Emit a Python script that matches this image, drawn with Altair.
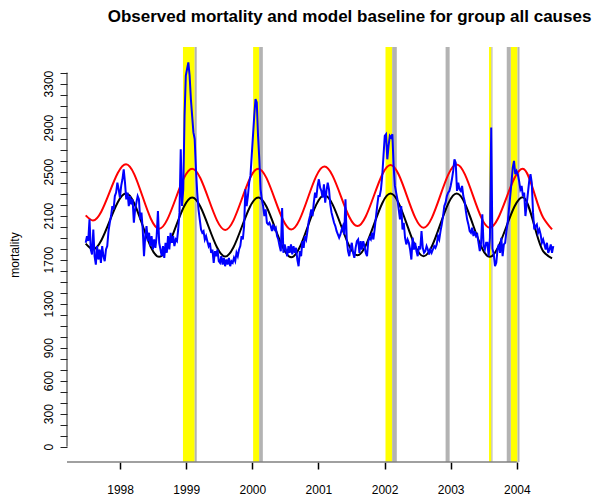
import altair as alt
import pandas as pd

# Weekly observed deaths, all causes, starting late June 1997
START_YEAR = 1997.48
WEEK = 7 / 365.25
observed = [
    1853, 1914, 1870, 2066, 1792, 1747, 1974, 1731, 1655, 1823,
    1701, 1792, 1671, 1823, 1731, 1686, 1792, 1823, 1959, 2035,
    2096, 2187, 2157, 2278, 2309, 2400, 2339, 2263, 2370, 2430,
    2521, 2400, 2248, 2309, 2187, 2278, 2202, 2248, 2035, 2157,
    2218, 2278, 2248, 2066, 2127, 1974, 1731, 1914, 2005, 1868,
    1944, 1823, 1914, 1792, 1883, 1807, 1914, 2142, 1853, 1792,
    1731, 1823, 1716, 1853, 1762, 1914, 1792, 1944, 1853, 1914,
    1823, 1883, 1868, 1974, 2127, 2704, 2187, 2339, 3007, 3372,
    3433, 3493, 3372, 3159, 3007, 2856, 2795, 2521, 2309, 2157,
    2066, 1974, 1944, 1959, 1883, 1914, 1868, 1823, 1853, 1762,
    1792, 1671, 1777, 1731, 1792, 1686, 1671, 1731, 1655, 1716,
    1640, 1701, 1655, 1716, 1640, 1686, 1671, 1716, 1686, 1762,
    1731, 1792, 1823, 1914, 1883, 2005, 2339, 2187, 2278, 2400,
    2461, 2643, 2825, 3007, 3159, 3129, 2825, 2612, 2339, 2248,
    2187, 2096, 2157, 2035, 2020, 2035, 2005, 1959, 2020, 1974,
    1990, 1914, 1883, 1823, 1777, 2170, 1762, 1838, 1792, 1731,
    1823, 1762, 1838, 1747, 1823, 1762, 1807, 1701, 1640, 1777,
    1731, 1868, 1807, 1914, 1883, 1959, 2050, 2096, 2157, 2096,
    2218, 2309, 2263, 2370, 2430, 2354, 2324, 2263, 2385, 2218,
    2324, 2400, 2339, 2202, 2127, 2081, 2035, 2005, 1959, 1929,
    1899, 1929, 1974, 2005, 1929, 2248, 1883, 1777, 1731, 1807,
    1853, 1762, 1716, 1807, 1868, 1883, 1762, 1868, 1790, 1868,
    1823, 1762, 1731, 1868, 1899, 1883, 1944, 1883, 1974, 2081,
    2187, 2278, 2278, 2339, 2461, 2643, 2825, 2840, 2612, 2734,
    2825, 2810, 2840, 2552, 2370, 2309, 2248, 2157, 2066, 2187,
    1974, 2035, 1899, 1838, 1883, 1853, 1792, 1701, 1899, 1792,
    1853, 1777, 1731, 1823, 1792, 1959, 1807, 1762, 1777, 1823,
    1792, 1747, 1792, 1762, 1792, 1823, 1807, 1838, 1914, 1883,
    1959, 2020, 2096, 2187, 2218, 2278, 2309, 2324, 2370, 2430,
    2506, 2612, 2582, 2324, 2400, 2339, 2324, 2370, 2278, 2233,
    2142, 2066, 2020, 1959, 1944, 1990, 1914, 1959, 1914, 1929,
    1853, 1777, 1853, 2111, 1823, 1792, 1853, 1853, 1731, 1900,
    2900, 1800, 1750, 1640, 1671, 1792, 1838, 1762, 1899, 1731,
    1838, 1853, 1959, 2035, 2157, 2278, 2400, 2536, 2597, 2476,
    2506, 2476, 2415, 2339, 2370, 2278, 2309, 2096, 2202, 2309,
    2415, 2476, 2400, 2127, 1974, 2005, 2020, 1944, 1974, 1929,
    1853, 1883, 1838, 1792, 1853, 1762, 1792, 1838, 1762, 1823,
]

# Seasonal model baseline and its upper threshold (turning points, decimal years)
curve_years = [1997.48, 1997.59, 1998.09, 1998.59, 1999.09, 1999.59, 2000.09,
               2000.59, 2001.09, 2001.59, 2002.09, 2002.59, 2003.09, 2003.59,
               2004.09, 2004.40, 2004.533]
baseline = [1845, 1795, 2300, 1725, 2265, 1728, 2265, 1722, 2285, 1740, 2300,
            1731, 2300, 1725, 2268, 1775, 1712]
threshold = [2102, 2056, 2567, 1980, 2527, 1970, 2527, 1974, 2546, 2005, 2561,
             1990, 2564, 1990, 2525, 2081, 1974]

# Flagged periods (decimal years)
yellow_from = [1998.951, 2000.012, 2002.014, 2003.580, 2003.909]
yellow_to = [1999.128, 2000.103, 2002.115, 2003.616, 2004.011]
grey_from = [1999.128, 2000.103, 2002.115, 2002.923, 2003.616, 2003.848, 2004.011]
grey_to = [1999.159, 2000.159, 2002.185, 2002.984, 2003.632, 2003.909, 2004.041]

year_ticks = [1998, 1999, 2000, 2001, 2002, 2003, 2004]
y_ticks = list(range(0, 3500, 100))
y_labelled = [0, 300, 600, 900, 1300, 1700, 2100, 2500, 2900, 3300]

FONT = "Liberation Sans"
W, H = 505, 415

obs_df = pd.DataFrame({
    "year": [START_YEAR + i * WEEK for i in range(len(observed))],
    "mortality": observed,
})
base_df = pd.DataFrame({"year": curve_years, "mortality": baseline})
thr_df = pd.DataFrame({"year": curve_years, "mortality": threshold})
yellow_df = pd.DataFrame({"start": yellow_from, "end": yellow_to})
grey_df = pd.DataFrame({"start": grey_from, "end": grey_to})
one_row = pd.DataFrame({"a": [0]})

# R-style 4% padding around the data range
x0, x1 = obs_df["year"].min(), obs_df["year"].max()
xs = x1 - x0
x_lo = x0 - 0.04 * xs
x_scale = alt.Scale(domain=[x_lo, x1 + 0.04 * xs], nice=False, zero=False)
ymax = max(observed)
y_scale = alt.Scale(domain=[-0.04 * ymax, 1.04 * ymax], nice=False, zero=False)

label_test = "indexof(" + str(y_labelled) + ", datum.value) >= 0 ? datum.label : ''"

# The same axis definitions go on every layer so the shared axes merge cleanly
x_axis = alt.Axis(values=year_ticks, format="d", title=None, tickSize=7,
                  tickWidth=1.5, tickColor="black", labelPadding=15,
                  labelFontSize=12, labelFlush=False, labelOverlap=False)
y_axis = alt.Axis(values=y_ticks, format="d", labelExpr=label_test,
                  title="mortality", tickSize=7, tickWidth=1, tickColor="#222",
                  labelAngle=270, labelAlign="center",
                  labelBaseline="alphabetic", labelPadding=8, labelFontSize=12,
                  labelOverlap=False, labelFlush=False, titleFontSize=12,
                  titleFontWeight="normal", titleX=-53, titleY=H / 2,
                  titleAngle=270, titleBaseline="middle", titleAlign="center")

yellow = alt.Chart(yellow_df).mark_rect(color="#FFFF00").encode(
    x=alt.X("start:Q", scale=x_scale, axis=x_axis),
    x2="end:Q",
    y=alt.value(0),
    y2=alt.value(H),
)
grey = alt.Chart(grey_df).mark_rect(color="#B3B3B3").encode(
    x=alt.X("start:Q", scale=x_scale, axis=x_axis),
    x2="end:Q",
    y=alt.value(0),
    y2=alt.value(H),
)

baseline_line = alt.Chart(base_df).mark_line(
    color="black", strokeWidth=2, interpolate="monotone"
).encode(
    x=alt.X("year:Q", scale=x_scale, axis=x_axis),
    y=alt.Y("mortality:Q", scale=y_scale, axis=y_axis),
)
threshold_line = alt.Chart(thr_df).mark_line(
    color="#FF0000", strokeWidth=2, interpolate="monotone"
).encode(
    x=alt.X("year:Q", scale=x_scale, axis=x_axis),
    y=alt.Y("mortality:Q", scale=y_scale, axis=y_axis),
)
observed_line = alt.Chart(obs_df).mark_line(color="#0000FF", strokeWidth=2).encode(
    x=alt.X("year:Q", scale=x_scale, axis=x_axis),
    y=alt.Y("mortality:Q", scale=y_scale, axis=y_axis),
)

# Axis lines drawn R-style: y from 0 to the last tick, x up to the last year
y_line = alt.Chart(one_row).mark_rule(color="#222", strokeWidth=1).encode(
    x=alt.value(0),
    y=alt.datum(0, scale=y_scale, axis=y_axis),
    y2=alt.datum(y_ticks[-1]),
)
x_line = alt.Chart(one_row).mark_rule(color="#808080", strokeWidth=1.5).encode(
    y=alt.value(H),
    x=alt.datum(x_lo, scale=x_scale, axis=x_axis),
    x2=alt.datum(year_ticks[-1]),
)

chart = alt.layer(
    yellow, grey, baseline_line, threshold_line, observed_line, y_line, x_line
).properties(
    width=W,
    height=H,
    autosize=alt.AutoSizeParams(type="none"),
    padding={"left": 67, "top": 47, "right": 22, "bottom": 33},
    title=alt.Title(
        "Observed mortality and model baseline for group all causes",
        font=FONT, fontSize=17, fontWeight="bold", color="black",
        anchor="middle", dx=30, offset=21,
    ),
).configure_view(stroke=None).configure_axis(
    labelFont=FONT, titleFont=FONT, labelColor="black", titleColor="black",
    grid=False, domain=False,
)

chart.save("out.html", embed_options={"renderer": "svg", "actions": False})
